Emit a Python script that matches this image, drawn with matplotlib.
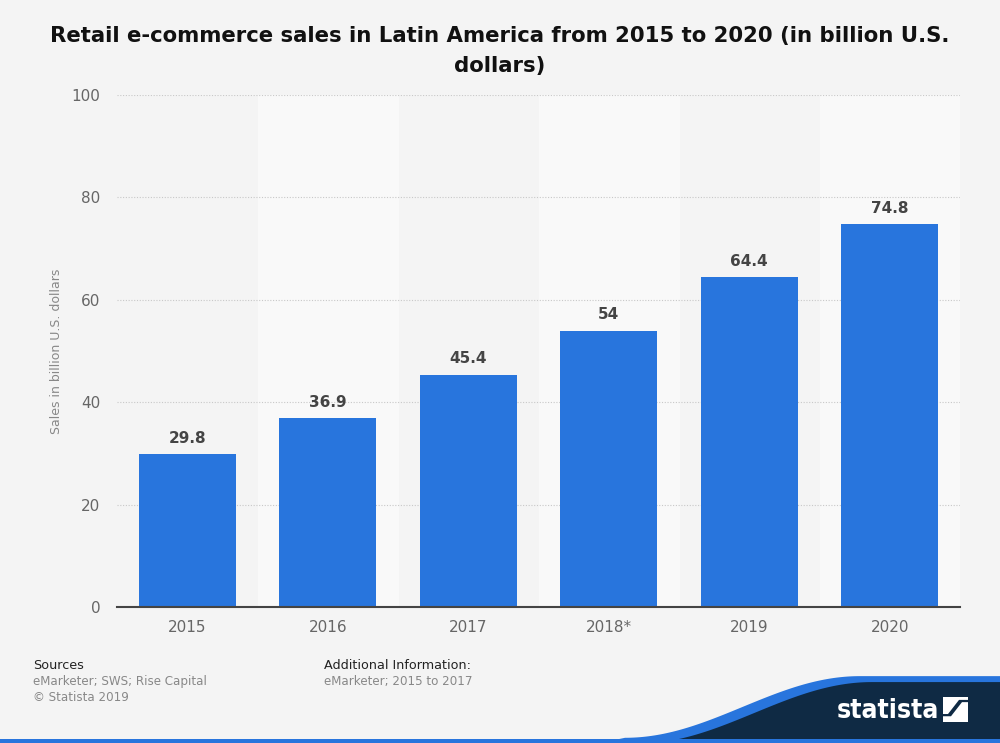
import numpy as np
import matplotlib
matplotlib.use("Agg")
import matplotlib.pyplot as plt
from matplotlib.patches import Polygon, Rectangle

years = ["2015", "2016", "2017", "2018*", "2019", "2020"]
sales = [29.8, 36.9, 45.4, 54, 64.4, 74.8]
value_labels = ["29.8", "36.9", "45.4", "54", "64.4", "74.8"]

bg = "#f4f4f4"
bar_color = "#2875dd"
navy = "#0f2a44"

fig = plt.figure(figsize=(10, 7.43), dpi=100, facecolor=bg)
ax = fig.add_axes([0.117, 0.183, 0.843, 0.689])
ax.set_facecolor(bg)

x = np.arange(len(years))
# lighter stripes behind every second category
for i in x:
    if i % 2 == 1:
        ax.axvspan(i - 0.5, i + 0.5, color="#f9f9f9", zorder=0)

ax.bar(x, sales, width=0.69, color=bar_color, zorder=3)
for xi, v, lab in zip(x, sales, value_labels):
    ax.text(xi, v + 1.6, lab, ha="center", va="bottom", fontsize=11,
            fontweight="bold", color="#444444", zorder=4)

ax.set_xlim(-0.5, len(years) - 0.5)
ax.set_ylim(0, 100)
ax.set_yticks(range(0, 101, 20))
ax.set_xticks(x)
ax.set_xticklabels(years)
ax.tick_params(axis="both", length=0, labelsize=11, labelcolor="#666666")
ax.tick_params(axis="y", pad=12)
ax.tick_params(axis="x", pad=9)
ax.grid(axis="y", color="#c8c8c8", linestyle=(0, (1, 1.5)), linewidth=0.8, zorder=1)
for s in ["top", "right", "left"]:
    ax.spines[s].set_visible(False)
ax.spines["bottom"].set_color("#444444")
ax.spines["bottom"].set_linewidth(1.5)
ax.spines["bottom"].set_zorder(5)
ax.set_ylabel("Sales in billion U.S. dollars", fontsize=9, color="#888888", labelpad=6)

fig.text(0.5, 0.931, "Retail e-commerce sales in Latin America from 2015 to 2020 (in billion U.S.\ndollars)",
         ha="center", va="center", fontsize=15.3, fontweight="bold", color="#111111",
         linespacing=1.6)

# footer
fig.text(0.033, 0.099, "Sources", fontsize=9.2, color="#222222")
fig.text(0.033, 0.078, "eMarketer; SWS; Rise Capital", fontsize=8.6, color="#888888")
fig.text(0.033, 0.056, "© Statista 2019", fontsize=8.6, color="#888888")
fig.text(0.324, 0.099, "Additional Information:", fontsize=9.2, color="#222222")
fig.text(0.324, 0.078, "eMarketer; 2015 to 2017", fontsize=8.6, color="#888888")

# logo swoosh
t = np.linspace(0, 1, 80)
cx = 0.625 + 0.235 * t
cy = 0.004 + 0.083 * (0.5 - 0.5 * np.cos(np.pi * t))
blue_pts = list(zip(cx, cy + 0.003)) + [(1.0, cy[-1] + 0.003), (1.0, 0.0), (0.6, 0.0)]
fig.patches.append(Polygon(blue_pts, closed=True, transform=fig.transFigure,
                           facecolor=bar_color, edgecolor="none"))
navy_pts = list(zip(cx + 0.012, cy - 0.005)) + [(1.0, cy[-1] - 0.005), (1.0, 0.0), (0.64, 0.0)]
fig.patches.append(Polygon(navy_pts, closed=True, transform=fig.transFigure,
                           facecolor=navy, edgecolor="none"))
fig.patches.append(Rectangle((0, 0), 1, 0.005, transform=fig.transFigure,
                             facecolor=bar_color, edgecolor="none"))
fig.text(0.888, 0.043, "statista", fontsize=19, fontweight="bold", color="white",
         ha="center", va="center", fontstretch="condensed",
         family=["DejaVu Sans"])
fig.patches.append(Rectangle((0.943, 0.028), 0.025, 0.034, transform=fig.transFigure,
                             facecolor="white", edgecolor="none"))
fig.patches.append(Polygon([(0.943, 0.036), (0.951, 0.036), (0.962, 0.055), (0.968, 0.055),
                            (0.968, 0.058), (0.959, 0.058), (0.948, 0.039), (0.943, 0.039)],
                           closed=True, transform=fig.transFigure,
                           facecolor=navy, edgecolor="none"))

fig.savefig("out.png", dpi=100, facecolor=bg)
